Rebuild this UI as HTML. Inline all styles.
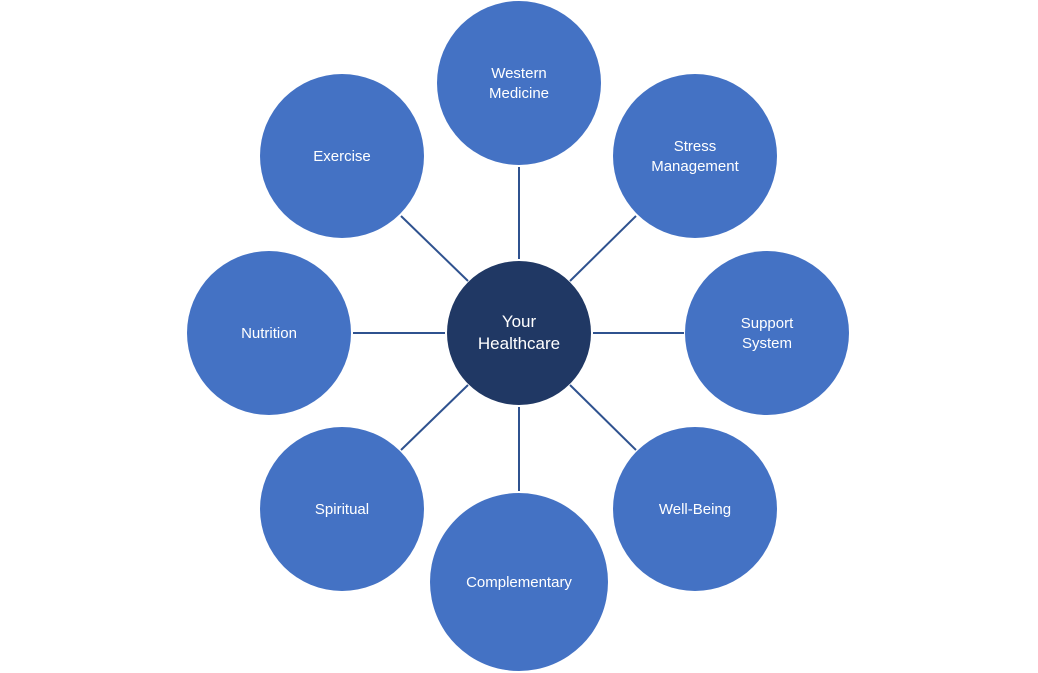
<!DOCTYPE html>
<html><head><meta charset="utf-8"><style>
html,body{margin:0;padding:0;background:#fff;}
svg{display:block;}
text{font-family:"Liberation Sans",sans-serif;font-size:15px;fill:#fff;text-anchor:middle;}
</style></head><body>
<svg width="1038" height="673" viewBox="0 0 1038 673">
<g stroke="#2f528f" stroke-width="2">
<line x1="519" y1="167" x2="519" y2="259"/>
<line x1="519" y1="407" x2="519" y2="491"/>
<line x1="593" y1="333" x2="684" y2="333"/>
<line x1="353" y1="333" x2="445" y2="333"/>
<line x1="570" y1="281" x2="636" y2="216"/>
<line x1="468" y1="281" x2="401" y2="216"/>
<line x1="570" y1="385" x2="636" y2="450"/>
<line x1="468" y1="385" x2="401" y2="450"/>
</g>
<g fill="#4472c4">
<circle cx="519" cy="83" r="82"/>
<circle cx="695" cy="156" r="82"/>
<circle cx="767" cy="333" r="82"/>
<circle cx="695" cy="509" r="82"/>
<circle cx="519" cy="582" r="89"/>
<circle cx="342" cy="509" r="82"/>
<circle cx="269" cy="333" r="82"/>
<circle cx="342" cy="156" r="82"/>
</g>
<circle cx="519" cy="333" r="72" fill="#203864"/>
<text x="519" y="78">Western</text><text x="519" y="98">Medicine</text>
<text x="695" y="151">Stress</text><text x="695" y="171">Management</text>
<text x="767" y="328">Support</text><text x="767" y="348">System</text>
<text x="695" y="514">Well-Being</text>
<text x="519" y="587">Complementary</text>
<text x="342" y="514">Spiritual</text>
<text x="269" y="338">Nutrition</text>
<text x="342" y="161">Exercise</text>
<text x="519" y="327" style="font-size:17px">Your</text>
<text x="519" y="349" style="font-size:17px">Healthcare</text>
</svg>
</body></html>
